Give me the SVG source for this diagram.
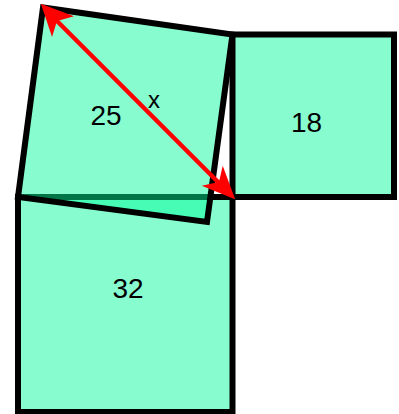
<svg xmlns="http://www.w3.org/2000/svg" width="399" height="414" viewBox="0 0 399 414">
<style>
.sq{fill:#00fa9a;fill-opacity:0.47;stroke:#000;stroke-width:6;stroke-linejoin:miter}
.lbl{font-family:"Liberation Sans",Arial,sans-serif;font-size:28px;fill:#000;text-anchor:middle}
.ar{stroke:#f00;stroke-width:4.5;fill:none}
.hd{fill:#f00;stroke:#f00;stroke-width:2.5;stroke-linejoin:miter}
</style>
<rect width="399" height="414" fill="#fff"/>
<g id="sq32">
<rect class="sq" x="18" y="197" width="214.5" height="215"/>
<text class="lbl" x="128" y="298">32</text>
</g>
<g id="sq18">
<rect class="sq" x="232.5" y="34.5" width="161.5" height="162.5"/>
<text class="lbl" x="306.5" y="131.5">18</text>
</g>
<g id="sq25">
<polygon class="sq" points="18,197 43,7.5 232.5,34.5 207,222"/>
<text class="lbl" x="106" y="125">25</text>
</g>
<g id="connectors">
<line class="ar" x1="50" y1="14" x2="226" y2="190"/>
<polygon class="hd" points="43,6 70,16 56,20 52,33"/>
<polygon class="hd" points="233,197 206,186 220,183 223,170"/>
<text class="lbl" x="154" y="108" style="font-size:24px">x</text>
</g>
</svg>
